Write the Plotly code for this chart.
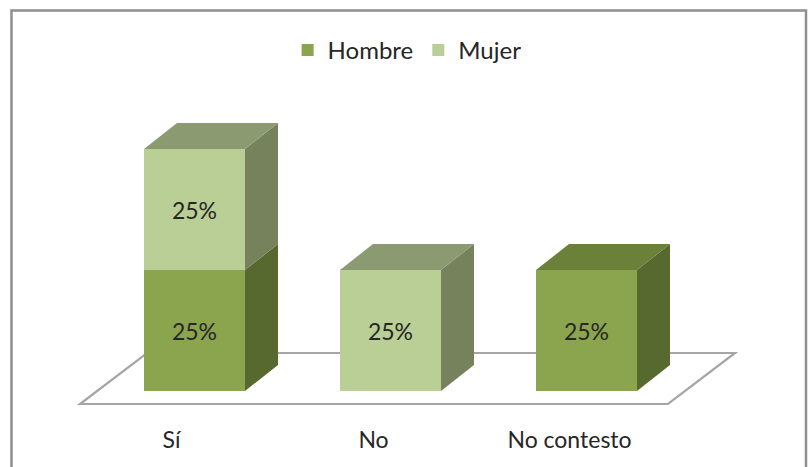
import plotly.graph_objects as go

categories = ["Sí", "No", "No contesto"]
hombre = [25, 0, 25]
mujer = [25, 25, 0]
series = [
    ("Hombre", hombre, "#8aa54e", "#57692f", "#6b8039"),
    ("Mujer", mujer, "#b9cf95", "#76825b", "#8b9a70"),
]
tick_offsets_px = [-23, -17, -17]

W, H = 811, 467
BOTTOM = 43
PX_X = 196.0      # pixels per category
PX_Y = 121 / 25   # pixels per percent
X0_PX, Y0_PX = 194.5, 391.0
BAR_W = 101 / PX_X
DX, DY = 33 / PX_X, 26 / PX_Y
FONT = "Lato"
INK = "#262626"

xr = [(0 - X0_PX) / PX_X, (W - X0_PX) / PX_X]
yr = [(Y0_PX - (H - BOTTOM)) / PX_Y, Y0_PX / PX_Y]

fig = go.Figure()
for name, vals, front, _, _ in series:
    fig.add_trace(go.Bar(
        name=name, x=list(range(len(categories))), y=vals,
        marker=dict(color=front, line=dict(width=0)), width=BAR_W,
        text=[f"{v}%" if v else "" for v in vals], textposition="inside",
        insidetextanchor="middle", constraintext="none", textangle=0,
        textfont=dict(family=FONT, size=23, color=INK), hoverinfo="skip",
    ))

def face(xs, ys, color):
    fig.add_trace(go.Scatter(x=xs, y=ys, mode="lines", fill="toself", fillcolor=color,
                             line=dict(width=0, color=color), showlegend=False, hoverinfo="skip"))

for i in range(len(categories)):
    base = 0
    r = i + BAR_W / 2
    l = i - BAR_W / 2
    top_color = None
    for _, vals, _, side, top in series:
        v = vals[i]
        if v:
            face([r, r + DX, r + DX, r, r], [base, base + DY, base + v + DY, base + v, base], side)
            base += v
            top_color = top
    face([l, r, r + DX, l + DX, l], [base, base, base + DY, base + DY, base], top_color)

# floor of the 3D plot
fl, fr = (80 - X0_PX) / PX_X, (668 - X0_PX) / PX_X
fy = (Y0_PX - 404) / PX_Y
fdx, fdy = 67 / PX_X, 51 / PX_Y
fig.add_shape(type="path", layer="below", xref="x", yref="y",
              path=f"M{fl},{fy} L{fr},{fy} L{fr + fdx},{fy + fdy} L{fl + fdx},{fy + fdy} Z",
              line=dict(color="#a6a6a6", width=2.2), fillcolor="white")

# chart frame (open at the bottom, cropped by the picture)
plot_h = H - BOTTOM
fig.add_shape(type="rect", layer="below", xref="paper", yref="paper",
              x0=11.5 / W, x1=806 / W, y0=-0.2, y1=(plot_h - 10.5) / plot_h,
              line=dict(color="#8f8f8f", width=2.5))

fig.update_layout(
    width=W, height=H, autosize=False, barmode="stack",
    margin=dict(l=0, r=0, t=0, b=BOTTOM),
    paper_bgcolor="white", plot_bgcolor="rgba(0,0,0,0)",
    legend=dict(orientation="h", x=0.502, xanchor="center", y=(plot_h - 28) / plot_h, yanchor="top",
                font=dict(family=FONT, size=24, color=INK), itemwidth=30,
                traceorder="normal", bgcolor="rgba(0,0,0,0)"),
    xaxis=dict(range=xr, showgrid=False, zeroline=False, showline=False, ticks="",
               tickmode="array",
               tickvals=[i + o / PX_X for i, o in enumerate(tick_offsets_px)],
               ticktext=categories, tickfont=dict(family=FONT, size=23, color=INK)),
    yaxis=dict(range=yr, visible=False, showgrid=False, zeroline=False),
)

fig.write_html("out.html", post_script="document.body.style.margin='0';",
               config=dict(displayModeBar=False))
